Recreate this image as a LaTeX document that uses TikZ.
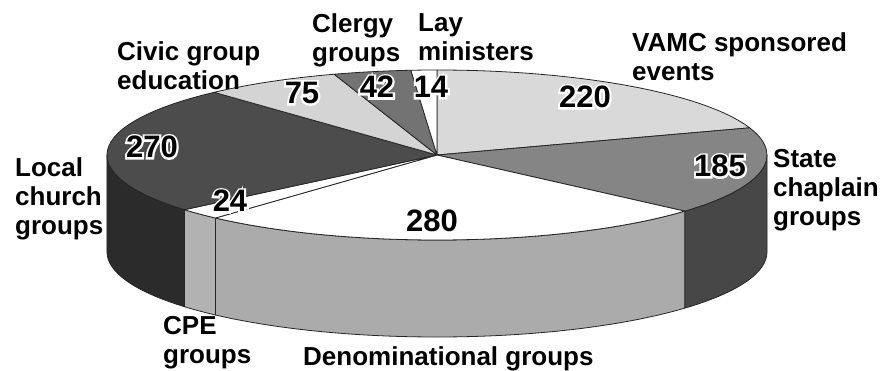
\documentclass[tikz,border=0pt]{standalone}
\usepackage{fontspec}
\setmainfont{Liberation Sans}
\newfontfamily\HaloFont{Liberation Sans}[BoldFeatures={FakeBold=13}]

\def\PieRX{330pt}
\def\PieRY{85pt}
\def\PieDepth{97pt}

\tikzset{
	CatLabel/.style={font=\bfseries\fontsize{26}{29}\selectfont, align=left,
		anchor=north west, inner sep=0pt},
	NumLabel/.style={font=\bfseries\fontsize{31}{33}\selectfont, inner sep=0pt},
	NumHalo/.style={font=\HaloFont\bfseries\fontsize{31}{33}\selectfont,
		inner sep=0pt, text=white},
	PieEdge/.style={draw=black!85, line width=0.8pt, line join=round}
}

% number with a white halo
\newcommand{\PieNum}[3]{%
	\node [NumHalo] at (#2) {#3};
	\node [NumLabel] (#1) at (#2) {#3};
}

\begin{document}
\begin{tikzpicture}[x=1pt, y=1pt]
\useasboundingbox (-437,-215) rectangle (447,155);
\fill [white] (-437,-215) rectangle (447,155);

% sides
\foreach \from/\to/\col in {0/-41.351/black!72, -41.351/-132.162/black!33,
		-132.162/-139.946/black!30, -139.946/-180/black!83}
	\filldraw [PieEdge, fill=\col] (\from:{\PieRX} and {\PieRY})
		arc [start angle=\from, end angle=\to, x radius=\PieRX, y radius=\PieRY]
		-- ++(0,-\PieDepth)
		arc [start angle=\to, end angle=\from, x radius=\PieRX, y radius=\PieRY]
		-- cycle;

% tops
\foreach \from/\to/\col in {90/18.649/black!15, 18.649/-41.351/black!48,
		-41.351/-132.162/white, -132.162/-139.946/white,
		-139.946/-227.514/black!70, -227.514/-251.838/black!17,
		-251.838/-265.460/black!55, -265.460/-270/white}
	\filldraw [PieEdge, fill=\col] (0,0) -- (\from:{\PieRX} and {\PieRY})
		arc [start angle=\from, end angle=\to, x radius=\PieRX, y radius=\PieRY]
		-- cycle;

% values
\PieNum{vamc}{148,58}{220}
\PieNum{state}{283,-11}{185}
\PieNum{denom}{-5,-66}{280}
\PieNum{cpe}{-207,-46}{24}
\PieNum{local}{-285,8}{270}
\PieNum{civic}{-135,62}{75}
\PieNum{clergy}{-60,68}{42}
\PieNum{lay}{-6,68}{14}

% categories
\node [CatLabel] (vamcL) at (195,123) {VAMC sponsored\\events};
\node [CatLabel] (stateL) at (336,6) {State\\chaplain\\groups};
\node [CatLabel] (denomL) at (-134,-191) {Denominational groups};
\node [CatLabel] (cpeL) at (-274,-161) {CPE\\groups};
\node [CatLabel] (localL) at (-422,-2) {Local\\church\\groups};
\node [CatLabel] (civicL) at (-320,114) {Civic group\\education};
\node [CatLabel] (clergyL) at (-125,142) {Clergy\\groups};
\node [CatLabel] (layL) at (-19,142) {Lay\\ministers};

\end{tikzpicture}
\end{document}
